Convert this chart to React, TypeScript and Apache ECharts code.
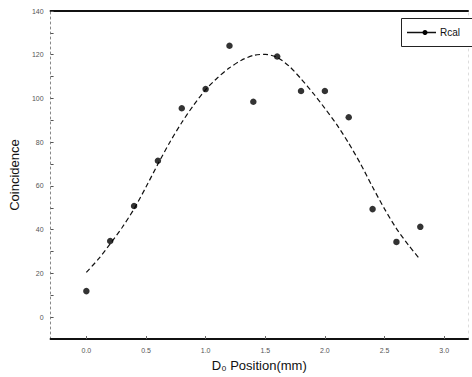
import React, { useEffect, useRef } from "react";
import * as echarts from "echarts";

const pointX = [0.0, 0.2, 0.4, 0.6, 0.8, 1.0, 1.2, 1.4, 1.6, 1.8, 2.0, 2.2, 2.4, 2.6, 2.8];
const pointY = [11.9, 34.8, 50.8, 71.5, 95.5, 104.3, 124.1, 98.5, 119.2, 103.4, 103.4, 91.4, 49.4, 34.4, 41.3];

const fitX = [0.0, 0.1, 0.2, 0.3, 0.4, 0.5, 0.6, 0.7, 0.8, 0.9, 1.0, 1.1, 1.2, 1.3, 1.4, 1.5, 1.6, 1.7, 1.8, 1.9, 2.0, 2.1, 2.2, 2.3, 2.4, 2.5, 2.6, 2.7, 2.79];
const fitY = [20.5, 26.5, 33.5, 41.0, 49.5, 59.5, 70.0, 80.0, 89.0, 97.0, 104.0, 109.5, 114.0, 117.5, 119.7, 120.2, 118.8, 114.8, 109.0, 102.5, 95.5, 88.0, 79.5, 70.0, 59.5, 49.5, 40.5, 33.0, 26.9];

const xTickLabels = [0, 0.5, 1.0, 1.5, 2.0, 2.5, 3.0];
const yTickLabels = [0, 20, 40, 60, 80, 100, 120, 140];
const yMinorTicks = [0, 10, 20, 30, 40, 50, 60, 70, 80, 90, 100, 110, 120, 130, 140];

const seriesName = "Rcal";
const xTitle = "D₀ Position(mm)";
const yTitle = "Coincidence";

export default function App() {
  const ref = useRef<HTMLDivElement>(null);
  useEffect(() => {
    if (!ref.current) return;
    const chart = echarts.init(ref.current, null, { renderer: "svg" });
    const labelStyle = { fontSize: 7, color: "#555", fontFamily: "Liberation Sans, Arial, sans-serif" };
    chart.setOption({
      animation: false,
      backgroundColor: "#fff",
      grid: { left: 48, right: 4, top: 11, bottom: 38, containLabel: false },
      xAxis: [
        {
          type: "value",
          min: -0.3,
          max: 3.2,
          position: "bottom",
          axisLine: { show: true, onZero: false, lineStyle: { color: "#111", width: 2 } },
          axisTick: { show: true, inside: true, length: 3, customValues: xTickLabels, lineStyle: { color: "#666" } },
          axisLabel: {
            ...labelStyle,
            margin: 8,
            customValues: xTickLabels,
            formatter: (v: number) => v.toFixed(1),
          },
          splitLine: { show: false },
          name: xTitle,
          nameLocation: "middle",
          nameGap: 15,
          nameTextStyle: { fontSize: 13, color: "#111", fontFamily: "Liberation Sans, Arial, sans-serif" },
        },
        {
          type: "value",
          min: -0.3,
          max: 3.2,
          position: "top",
          axisLine: { show: true, onZero: false, lineStyle: { color: "#111", width: 2 } },
          axisTick: { show: false },
          axisLabel: { show: false },
          splitLine: { show: false },
        },
      ],
      yAxis: [
        {
          type: "value",
          min: -10,
          max: 140,
          position: "left",
          axisLine: { show: true, onZero: false, lineStyle: { color: "#888", width: 1, type: [2, 3] } },
          axisTick: { show: true, inside: true, length: 3, customValues: yMinorTicks, lineStyle: { color: "#555" } },
          axisLabel: {
            ...labelStyle,
            margin: 7,
            customValues: yTickLabels,
          },
          splitLine: { show: false },
          name: yTitle,
          nameLocation: "middle",
          nameGap: 23,
          nameTextStyle: { fontSize: 13, color: "#111", fontFamily: "Liberation Sans, Arial, sans-serif" },
        },
        {
          type: "value",
          min: -10,
          max: 140,
          position: "right",
          axisLine: { show: true, onZero: false, lineStyle: { color: "#ddd", width: 1, type: [2, 4] } },
          axisTick: { show: false },
          axisLabel: { show: false },
          splitLine: { show: false },
        },
      ],
      series: [
        {
          name: "fit",
          type: "line",
          data: fitX.map((x, i) => [x, fitY[i]]),
          smooth: 0.25,
          showSymbol: false,
          symbol: "none",
          lineStyle: { color: "#111", width: 1.2, type: [5, 3] },
          z: 2,
        },
        {
          name: seriesName,
          type: "scatter",
          data: pointX.map((x, i) => [x, pointY[i]]),
          symbol: "circle",
          symbolSize: 6.5,
          itemStyle: { color: "#000" },
          z: 3,
        },
      ],
      graphic: [
        {
          type: "rect",
          shape: { x: 401.5, y: 18.5, width: 75, height: 28 },
          style: { fill: "#fff", stroke: "#222", lineWidth: 1 },
          z: 10,
        },
        {
          type: "line",
          shape: { x1: 407, y1: 32.5, x2: 436, y2: 32.5 },
          style: { stroke: "#111", lineWidth: 1.5 },
          z: 11,
        },
        {
          type: "circle",
          shape: { cx: 425, cy: 32.5, r: 2.5 },
          style: { fill: "#000" },
          z: 11,
        },
        {
          type: "text",
          x: 440,
          y: 27,
          style: { text: seriesName, fontSize: 10, fill: "#111", fontFamily: "Liberation Sans, Arial, sans-serif" },
          z: 11,
        },
      ],
    });
    return () => chart.dispose();
  }, []);
  return (
    <div
      ref={ref}
      style={{ position: "fixed", left: 0, top: 0, width: 472, height: 377, background: "#fff" }}
    />
  );
}
